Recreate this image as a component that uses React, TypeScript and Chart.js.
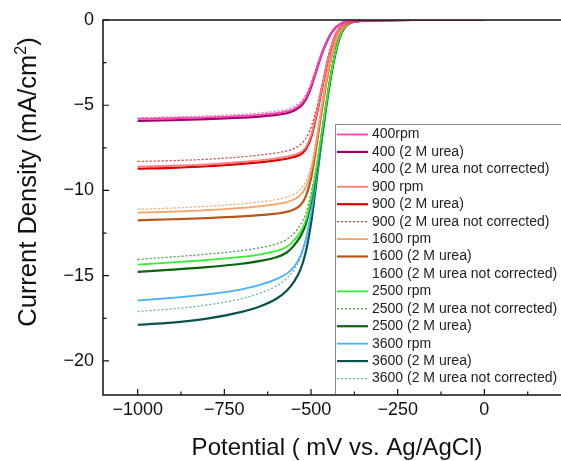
import React, { useEffect, useRef } from 'react';
import { Chart, registerables } from 'chart.js';

Chart.register(...registerables);

// Potential (mV vs. Ag/AgCl)
const POTENTIAL = [-1000, -900, -800, -700, -650, -600, -570, -550, -530, -515, -500, -490, -480, -470, -460, -450, -440, -430, -420, -410, -400, -380, -350, -300, -200, 0];

const J_400_RPM = [-5.80, -5.76, -5.71, -5.62, -5.56, -5.46, -5.36, -5.22, -4.95, -4.55, -3.85, -3.25, -2.62, -2.02, -1.5, -1.06, -0.72, -0.46, -0.29, -0.18, -0.11, -0.05, -0.02, -0.01, 0, 0];
const J_400_UREA = [-5.92, -5.88, -5.82, -5.73, -5.67, -5.57, -5.47, -5.33, -5.06, -4.66, -3.95, -3.33, -2.68, -2.06, -1.53, -1.08, -0.73, -0.47, -0.3, -0.18, -0.11, -0.05, -0.02, -0.01, 0, 0];
const J_400_NC = [-5.74, -5.69, -5.63, -5.53, -5.46, -5.35, -5.24, -5.09, -4.8, -4.38, -3.68, -3.1, -2.5, -1.93, -1.44, -1.02, -0.69, -0.44, -0.28, -0.17, -0.1, -0.05, -0.02, -0.01, 0, 0];
const J_900_RPM = [-8.6, -8.55, -8.47, -8.33, -8.24, -8.12, -8.02, -7.92, -7.76, -7.46, -6.78, -6.0, -5.12, -4.14, -3.16, -2.23, -1.48, -0.9, -0.55, -0.33, -0.2, -0.08, -0.03, -0.01, 0, 0];
const J_900_UREA = [-8.72, -8.67, -8.58, -8.44, -8.35, -8.24, -8.14, -8.04, -7.88, -7.58, -6.9, -6.1, -5.2, -4.2, -3.2, -2.25, -1.5, -0.9, -0.55, -0.33, -0.2, -0.08, -0.03, -0.01, 0, 0];
const J_900_NC = [-8.3, -8.25, -8.17, -8.03, -7.93, -7.8, -7.68, -7.55, -7.3, -6.95, -6.3, -5.62, -4.85, -3.95, -3.03, -2.15, -1.44, -0.87, -0.53, -0.32, -0.19, -0.08, -0.03, -0.01, 0, 0];
const J_1600_RPM = [-11.3, -11.24, -11.15, -11.02, -10.93, -10.8, -10.68, -10.53, -10.26, -9.8, -8.85, -7.8, -6.55, -5.25, -4.05, -2.95, -2.03, -1.32, -0.81, -0.49, -0.29, -0.1, -0.04, -0.01, 0, 0];
const J_1600_UREA = [-11.75, -11.69, -11.62, -11.52, -11.45, -11.36, -11.26, -11.12, -10.85, -10.35, -9.3, -8.15, -6.8, -5.43, -4.15, -3.02, -2.07, -1.35, -0.83, -0.5, -0.3, -0.1, -0.04, -0.01, 0, 0];
const J_1600_NC = [-11.1, -11.03, -10.93, -10.78, -10.68, -10.53, -10.39, -10.22, -9.92, -9.45, -8.55, -7.55, -6.35, -5.1, -3.95, -2.88, -1.99, -1.3, -0.8, -0.48, -0.29, -0.1, -0.04, -0.01, 0, 0];
const J_2500_RPM = [-14.35, -14.22, -14.08, -13.9, -13.76, -13.55, -13.3, -12.95, -12.42, -11.75, -10.5, -9.42, -8.15, -6.78, -5.4, -4.1, -2.92, -1.93, -1.17, -0.66, -0.36, -0.12, -0.04, -0.01, 0, 0];
const J_2500_NC = [-14.05, -13.9, -13.74, -13.53, -13.37, -13.14, -12.88, -12.53, -12.0, -11.35, -10.15, -9.13, -7.93, -6.62, -5.28, -4.02, -2.87, -1.9, -1.15, -0.65, -0.35, -0.12, -0.04, -0.01, 0, 0];
const J_2500_UREA = [-14.78, -14.65, -14.5, -14.3, -14.15, -13.92, -13.64, -13.25, -12.68, -11.98, -10.7, -9.6, -8.3, -6.9, -5.48, -4.15, -2.95, -1.95, -1.18, -0.67, -0.36, -0.12, -0.04, -0.01, 0, 0];
const J_3600_RPM = [-16.45, -16.3, -16.1, -15.8, -15.56, -15.2, -14.88, -14.5, -13.82, -12.85, -11.35, -10.05, -8.62, -7.12, -5.62, -4.22, -3.0, -1.98, -1.2, -0.68, -0.37, -0.12, -0.04, -0.01, 0, 0];
const J_3600_UREA = [-17.88, -17.75, -17.52, -17.12, -16.82, -16.35, -15.88, -15.38, -14.62, -13.6, -11.95, -10.4, -8.78, -7.18, -5.65, -4.24, -3.02, -1.99, -1.2, -0.68, -0.37, -0.12, -0.04, -0.01, 0, 0];
const J_3600_NC = [-17.1, -16.95, -16.72, -16.35, -16.05, -15.6, -15.16, -14.68, -13.95, -13.0, -11.45, -10.1, -8.62, -7.08, -5.58, -4.2, -2.99, -1.97, -1.19, -0.67, -0.36, -0.12, -0.04, -0.01, 0, 0];

const SERIES_LABELS = [
  '400rpm', '400 (2 M urea)', '400 (2 M urea not corrected)',
  '900 rpm', '900 (2 M urea)', '900 (2 M urea not corrected)',
  '1600 rpm', '1600 (2 M urea)', '1600 (2 M urea not corrected)',
  '2500 rpm', '2500 (2 M urea not corrected)', '2500 (2 M urea)',
  '3600 rpm', '3600 (2 M urea)', '3600 (2 M urea not corrected)',
];
const SERIES_VALUES = [
  J_400_RPM, J_400_UREA, J_400_NC,
  J_900_RPM, J_900_UREA, J_900_NC,
  J_1600_RPM, J_1600_UREA, J_1600_NC,
  J_2500_RPM, J_2500_NC, J_2500_UREA,
  J_3600_RPM, J_3600_UREA, J_3600_NC,
];
const SERIES_COLORS = [
  '#ff40b0', '#a0006a', '#e87aa6',
  '#ff7a7a', '#dd0000', '#e03a3a',
  '#f5a263', '#b8561c', '#f0a676',
  '#33ee33', '#4f9a4f', '#0a660a',
  '#44b0ff', '#0d5050', '#6fb0b0',
];
const SERIES_WIDTHS = [1.8, 2.2, 1.3, 1.8, 2.2, 1.3, 1.8, 2.2, 1.3, 1.8, 1.3, 2.2, 1.8, 2.2, 1.3];
const SERIES_DOTTED = [false, false, true, false, false, true, false, false, true, false, true, false, false, false, true];
const LEGEND_SAMPLE = [true, true, false, true, true, true, true, true, false, true, true, true, true, true, true];

const X_MAJOR = [-1000, -750, -500, -250, 0];
const X_MINOR = [-875, -625, -375, -125, 125];
const Y_MAJOR = [0, -5, -10, -15, -20];
const Y_MINOR = [-2.5, -7.5, -12.5, -17.5];

const FONT = '"Liberation Sans", Arial, sans-serif';
const fmt = (v: number) => (v < 0 ? '\u2212' + Math.abs(v) : String(v));

const framePlugin = {
  id: 'frame',
  afterDraw(chart: any) {
    const { ctx, chartArea: a } = chart;
    const xs = chart.scales.x;
    const ys = chart.scales.y;
    ctx.save();
    // legend box
    const lx = 335, ly = 124, step = 17.43;
    ctx.fillStyle = '#fff';
    ctx.fillRect(lx, ly, a.right - lx + 5, a.bottom - ly);
    ctx.strokeStyle = '#888';
    ctx.lineWidth = 1;
    ctx.beginPath();
    ctx.moveTo(lx + 0.5, a.bottom);
    ctx.lineTo(lx + 0.5, ly + 0.5);
    ctx.lineTo(a.right + 5, ly + 0.5);
    ctx.stroke();
    ctx.font = `14px ${FONT}`;
    ctx.textBaseline = 'middle';
    ctx.textAlign = 'left';
    SERIES_LABELS.forEach((lab, i) => {
      const yy = ly + 10.5 + i * step;
      if (LEGEND_SAMPLE[i]) {
        ctx.strokeStyle = SERIES_COLORS[i];
        ctx.lineWidth = SERIES_WIDTHS[i];
        ctx.setLineDash(SERIES_DOTTED[i] ? [2, 2] : []);
        ctx.beginPath();
        ctx.moveTo(337, yy);
        ctx.lineTo(368, yy);
        ctx.stroke();
        ctx.setLineDash([]);
      }
      ctx.fillStyle = '#222';
      ctx.fillText(lab, 372, yy);
    });
    // frame
    ctx.strokeStyle = '#111';
    ctx.lineWidth = 1.5;
    ctx.beginPath();
    ctx.moveTo(a.right + 2, a.top);
    ctx.lineTo(a.left, a.top);
    ctx.lineTo(a.left, a.bottom);
    ctx.lineTo(a.right + 2, a.bottom);
    ctx.stroke();
    // ticks
    ctx.lineWidth = 1.2;
    ctx.beginPath();
    X_MAJOR.forEach((v) => { const p = xs.getPixelForValue(v); ctx.moveTo(p, a.bottom); ctx.lineTo(p, a.bottom - 6); });
    X_MINOR.forEach((v) => { const p = xs.getPixelForValue(v); ctx.moveTo(p, a.bottom); ctx.lineTo(p, a.bottom - 3.5); });
    Y_MAJOR.forEach((v) => { const p = ys.getPixelForValue(v); ctx.moveTo(a.left, p); ctx.lineTo(a.left + 6, p); });
    Y_MINOR.forEach((v) => { const p = ys.getPixelForValue(v); ctx.moveTo(a.left, p); ctx.lineTo(a.left + 3.5, p); });
    ctx.stroke();
    // titles
    ctx.fillStyle = '#111';
    ctx.font = `24px ${FONT}`;
    ctx.textAlign = 'center';
    ctx.textBaseline = 'alphabetic';
    ctx.fillText('Potential ( mV vs. Ag/AgCl)', 337, 455);
    ctx.save();
    ctx.translate(36, 182);
    ctx.rotate(-Math.PI / 2);
    const main = 'Current Density (mA/cm';
    ctx.font = `25.5px ${FONT}`;
    const w1 = ctx.measureText(main).width;
    ctx.font = `16px ${FONT}`;
    const w2 = ctx.measureText('2').width;
    ctx.font = `25.5px ${FONT}`;
    const w3 = ctx.measureText(')').width;
    const total = w1 + w2 + w3;
    const x0 = -total / 2;
    ctx.textAlign = 'left';
    ctx.fillText(main, x0, 0);
    ctx.font = `16px ${FONT}`;
    ctx.fillText('2', x0 + w1, -10);
    ctx.font = `25.5px ${FONT}`;
    ctx.fillText(')', x0 + w1 + w2, 0);
    ctx.restore();
    ctx.restore();
  },
};

export default function App() {
  const ref = useRef<HTMLCanvasElement | null>(null);
  useEffect(() => {
    document.body.style.margin = '0';
    const canvas = ref.current;
    if (!canvas) return;
    const datasets = SERIES_LABELS.map((label, i) => ({
      label,
      data: POTENTIAL.map((x, k) => ({ x, y: SERIES_VALUES[i][k] })),
      borderColor: SERIES_COLORS[i],
      backgroundColor: SERIES_COLORS[i],
      borderWidth: SERIES_WIDTHS[i],
      borderDash: SERIES_DOTTED[i] ? [2, 2] : [],
      pointRadius: 0,
      fill: false,
      cubicInterpolationMode: 'monotone' as const,
    }));
    const chart = new Chart(canvas, {
      type: 'line',
      data: { datasets },
      options: {
        animation: false,
        responsive: false,
        devicePixelRatio: 1,
        layout: { padding: { top: 20, right: 0, left: 0, bottom: 0 } },
        plugins: { legend: { display: false }, tooltip: { enabled: false } },
        scales: {
          x: {
            type: 'linear',
            min: -1100,
            max: 221,
            grid: { display: false, drawTicks: false },
            border: { display: false },
            afterBuildTicks: (s: any) => { s.ticks = X_MAJOR.map((v) => ({ value: v })); },
            afterFit: (s: any) => { s.height = 66; },
            ticks: {
              padding: 4,
              color: '#111',
              font: { family: FONT, size: 18 },
              callback: (v: any) => fmt(Number(v)),
              maxRotation: 0,
            },
          },
          y: {
            type: 'linear',
            min: -22,
            max: 0,
            grid: { display: false, drawTicks: false },
            border: { display: false },
            afterBuildTicks: (s: any) => { s.ticks = Y_MAJOR.map((v) => ({ value: v })); },
            afterFit: (s: any) => { s.width = 103; },
            ticks: {
              padding: 9,
              color: '#111',
              font: { family: FONT, size: 18 },
              callback: (v: any) => fmt(Number(v)),
            },
          },
        },
      },
      plugins: [framePlugin],
    });
    return () => chart.destroy();
  }, []);
  return (
    <div style={{ width: 561, height: 461 }}>
      <canvas ref={ref} width={561} height={461} />
    </div>
  );
}
